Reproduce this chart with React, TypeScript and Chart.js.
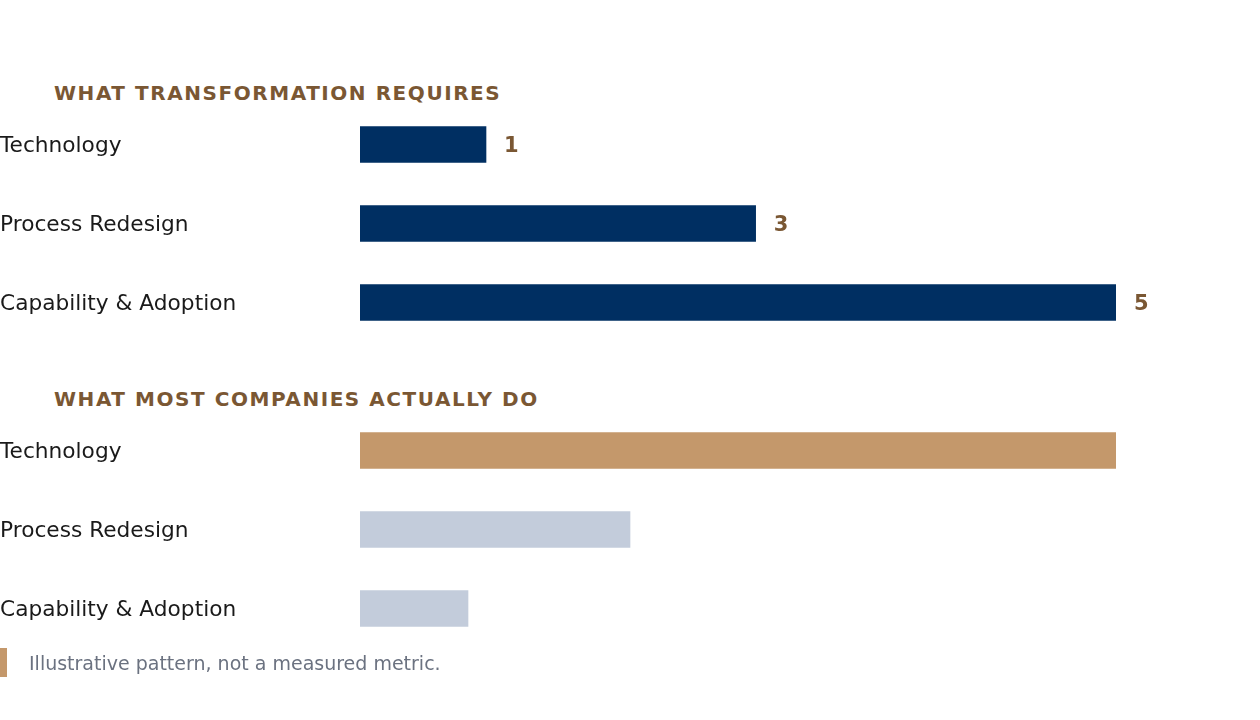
import React, { useEffect, useRef } from "react";
import { Chart, registerables } from "chart.js";

Chart.register(...registerables);

const categories = ["Technology", "Process Redesign", "Capability & Adoption"];
// Top section: bar lengths and their displayed scores
const requiredWeights = [1, 3.14, 6];
const requiredScores = ["1", "3", "5"];
// Bottom section: bar lengths
const actualWeights = [70, 25, 10];

const NAVY = "#002f62";
const TAN = "#c4986b";
const LIGHT = "#c3ccdb";
const BROWN = "#7a5733";
const TEXT = "#1a1a1a";
const FONT = "'DejaVu Sans', sans-serif";

const labelPlugin = {
  id: "panelLabels",
  afterDatasetsDraw(chart: any, _args: any, opts: any) {
    const ctx = chart.ctx;
    const yScale = chart.scales.y;
    ctx.save();
    // category labels, left aligned at the canvas edge
    ctx.font = `21.7px ${FONT}`;
    ctx.fillStyle = TEXT;
    ctx.textAlign = "left";
    ctx.textBaseline = "middle";
    (chart.data.labels as string[]).forEach((lab: string, i: number) => {
      ctx.fillText(lab, 0, yScale.getPixelForValue(i) + 2);
    });
    // value labels
    const labels: string[] | undefined = opts && opts.labels;
    if (labels) {
      const meta = chart.getDatasetMeta(0);
      ctx.font = `bold 21px ${FONT}`;
      ctx.fillStyle = BROWN;
      meta.data.forEach((bar: any, i: number) => {
        if (labels[i] == null) return;
        ctx.fillText(labels[i], bar.x + 18, bar.y + 2);
      });
    }
    ctx.restore();
  },
};

function BarPanel(props: {
  values: number[];
  colors: string[];
  max: number;
  labels?: string[];
  top: number;
}) {
  const ref = useRef<HTMLCanvasElement | null>(null);
  useEffect(() => {
    if (!ref.current) return;
    const chart = new Chart(ref.current, {
      type: "bar",
      data: {
        labels: categories,
        datasets: [
          {
            data: props.values,
            backgroundColor: props.colors,
            borderWidth: 0,
            barThickness: 36,
          },
        ],
      },
      options: {
        indexAxis: "y",
        responsive: false,
        animation: false,
        events: [],
        layout: { padding: { left: 360, right: 144, top: 16, bottom: 16 } },
        plugins: {
          legend: { display: false },
          tooltip: { enabled: false },
          panelLabels: { labels: props.labels },
        } as any,
        scales: {
          x: { display: false, min: 0, max: props.max },
          y: { display: false },
        },
      } as any,
      plugins: [labelPlugin as any],
    });
    return () => chart.destroy();
  }, []);
  return (
    <canvas
      ref={ref}
      width={1260}
      height={269}
      style={{ position: "absolute", left: 0, top: props.top, width: 1260, height: 269 }}
    />
  );
}

const titleStyle: React.CSSProperties = {
  position: "absolute",
  left: 54,
  fontFamily: FONT,
  fontWeight: "bold",
  fontSize: 20,
  lineHeight: "normal",
  letterSpacing: "1.55px",
  color: BROWN,
  whiteSpace: "nowrap",
};

export default function App() {
  return (
    <div
      style={{
        position: "absolute",
        left: 0,
        top: 0,
        width: 1260,
        height: 720,
        background: "#ffffff",
        overflow: "hidden",
        fontFamily: FONT,
      }}
    >
      <div style={{ ...titleStyle, top: 81 }}>WHAT TRANSFORMATION REQUIRES</div>
      <div style={{ ...titleStyle, top: 387 }}>WHAT MOST COMPANIES ACTUALLY DO</div>
      <BarPanel values={requiredWeights} colors={[NAVY, NAVY, NAVY]} max={6} labels={requiredScores} top={89} />
      <BarPanel values={actualWeights} colors={[TAN, LIGHT, LIGHT]} max={70} top={395} />
      <div
        style={{
          position: "absolute",
          left: 0,
          top: 648,
          width: 7,
          height: 29,
          background: TAN,
        }}
      />
      <div
        style={{
          position: "absolute",
          left: 29,
          top: 652,
          fontFamily: FONT,
          fontSize: 19,
          lineHeight: "normal",
          color: "#6b7280",
          whiteSpace: "nowrap",
        }}
      >
        Illustrative pattern, not a measured metric.
      </div>
    </div>
  );
}
